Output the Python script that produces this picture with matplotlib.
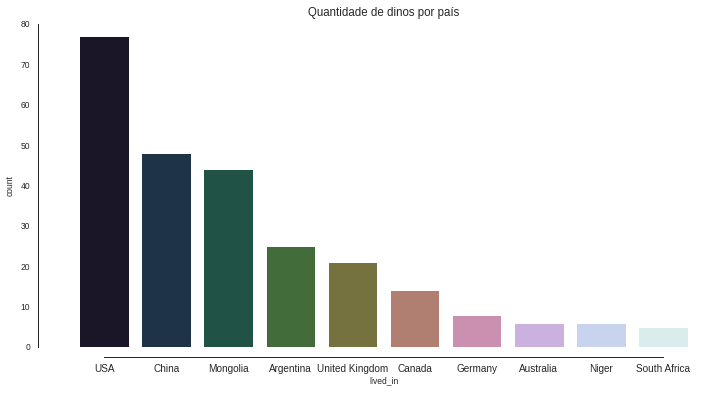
import matplotlib
matplotlib.use("Agg")
import matplotlib.pyplot as plt
import seaborn as sns
import numpy as np

countries = ["USA", "China", "Mongolia", "Argentina", "United Kingdom", "Canada",
             "Germany", "Australia", "Niger", "South Africa"]
counts = [77, 48, 44, 25, 21, 14, 8, 6, 6, 5]

sns.set_style("white")
plt.rcParams['font.family'] = ['Liberation Sans', 'DejaVu Sans']
text_color = "0.15"
fs = 8.5

fig = plt.figure(figsize=(725/72, 393/72), dpi=72)
ax = fig.add_axes([73/725, 1 - 347/393, (694-73)/725, (347-24)/393])

colors = [sns.desaturate(c, 0.75) for c in sns.color_palette("cubehelix", len(countries))]
x = np.arange(len(countries))
ax.bar(x, counts, width=0.8, color=colors)
ax.set_xticks(x)
ax.set_xticklabels(countries, fontsize=fs, color=text_color)
ax.set_xlim(-0.5, len(countries) - 0.5)
ax.set_ylim(0, 80)
ax.set_yticks(np.arange(0, 81, 10))
ax.tick_params(axis='y', labelsize=fs, labelcolor=text_color, length=0, pad=8)
ax.tick_params(axis='x', length=0, pad=6.5)
ax.set_xlabel("lived_in", fontsize=fs, color=text_color, labelpad=3)
ax.set_ylabel("count", fontsize=fs, color=text_color, labelpad=6)
ax.set_title("Quantidade de dinos por país", fontsize=11.5, color=text_color, pad=8)

for s in ["top", "right"]:
    ax.spines[s].set_visible(False)
ax.spines["left"].set_position(("outward", 35))
ax.spines["bottom"].set_position(("outward", 10))
ax.spines["left"].set_bounds(0, 80)
ax.spines["bottom"].set_bounds(0, len(countries) - 1)
for s in ["left", "bottom"]:
    ax.spines[s].set_color(text_color)
    ax.spines[s].set_linewidth(1.0)

fig.savefig("out.png", dpi=72)
